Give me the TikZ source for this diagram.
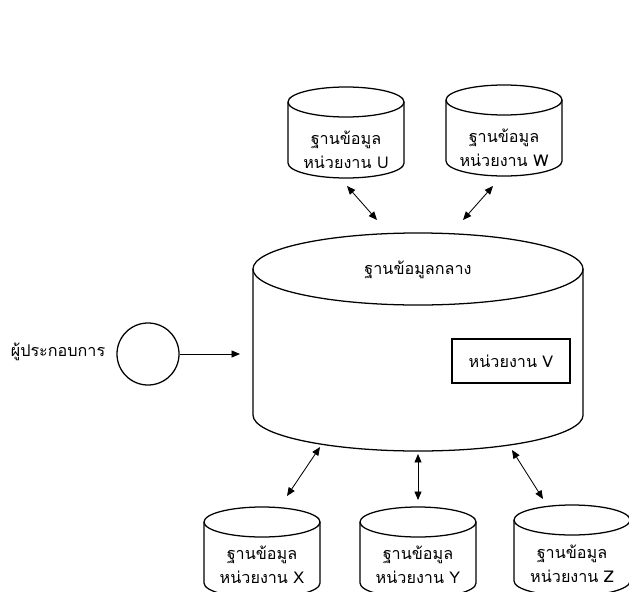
\documentclass[tikz,border=0pt]{standalone}
\usepackage{fontspec}
\newfontfamily\thaifont[Script=Thai]{Loma}
\usetikzlibrary{arrows.meta}

\begin{document}
\begin{tikzpicture}[x=0.025cm,y=0.025cm,font=\thaifont\fontsize{11.5}{17}\selectfont]
\tikzstyle{dbline}=[line width=0.9pt]
\tikzstyle{dbtext}=[align=center, inner sep=1pt]
\tikzstyle{link}=[line width=0.6pt, {Triangle[length=6pt,width=5pt]}-{Triangle[length=6pt,width=5pt]}]
\useasboundingbox (0,0) rectangle (629,-591);
\clip (0,0) rectangle (629,-591);
% central database
\draw[dbline] (253,-269) -- (253,-415) arc[start angle=180,end angle=360,x radius=4.125cm,y radius=0.9cm] -- (583,-269);
\draw[dbline] (418,-269) ellipse [x radius=4.125cm,y radius=0.9cm];
\node (central) at (418,-270) {ฐานข้อมูลกลาง};
\node[draw, dbline, minimum width=2.95cm, minimum height=1.1cm] (unitV) at (511,-361) {หน่วยงาน V};
% unit databases
\foreach \n/\cx/\cy/\dy in {U/346/-102/48,W/504/-100/48,X/262/-522/43,Y/418/-522/43,Z/572/-520/44}{
  \draw[dbline] (\cx-58,\cy) -- (\cx-58,\cy-61) arc[start angle=180,end angle=360,x radius=1.45cm,y radius=0.375cm] -- (\cx+58,\cy);
  \draw[dbline] (\cx,\cy) ellipse [x radius=1.45cm,y radius=0.375cm];
  \node[dbtext] (db\n) at (\cx,\cy-\dy) {ฐานข้อมูล\\หน่วยงาน \n};
}
% operator
\node[draw, dbline, circle, minimum size=1.55cm, inner sep=0pt] (ent) at (148,-354) {};
\node (entLabel) at (58,-352) {ผู้ประกอบการ};
\coordinate (entEnd) at (240,-354);
\draw[line width=0.6pt, -{Triangle[length=6pt,width=5pt]}] (ent) -- (entEnd);
% links
\coordinate (aU1) at (347,-186); \coordinate (aU2) at (377,-220);
\coordinate (aW1) at (493,-186); \coordinate (aW2) at (463,-220);
\coordinate (aX1) at (320,-447); \coordinate (aX2) at (287,-496);
\coordinate (aY1) at (418,-454); \coordinate (aY2) at (418,-500);
\coordinate (aZ1) at (512,-450); \coordinate (aZ2) at (543,-499);
\foreach \n in {U,W,X,Y,Z}
\draw[link] (a\n1) -- (a\n2);
\end{tikzpicture}
\end{document}
